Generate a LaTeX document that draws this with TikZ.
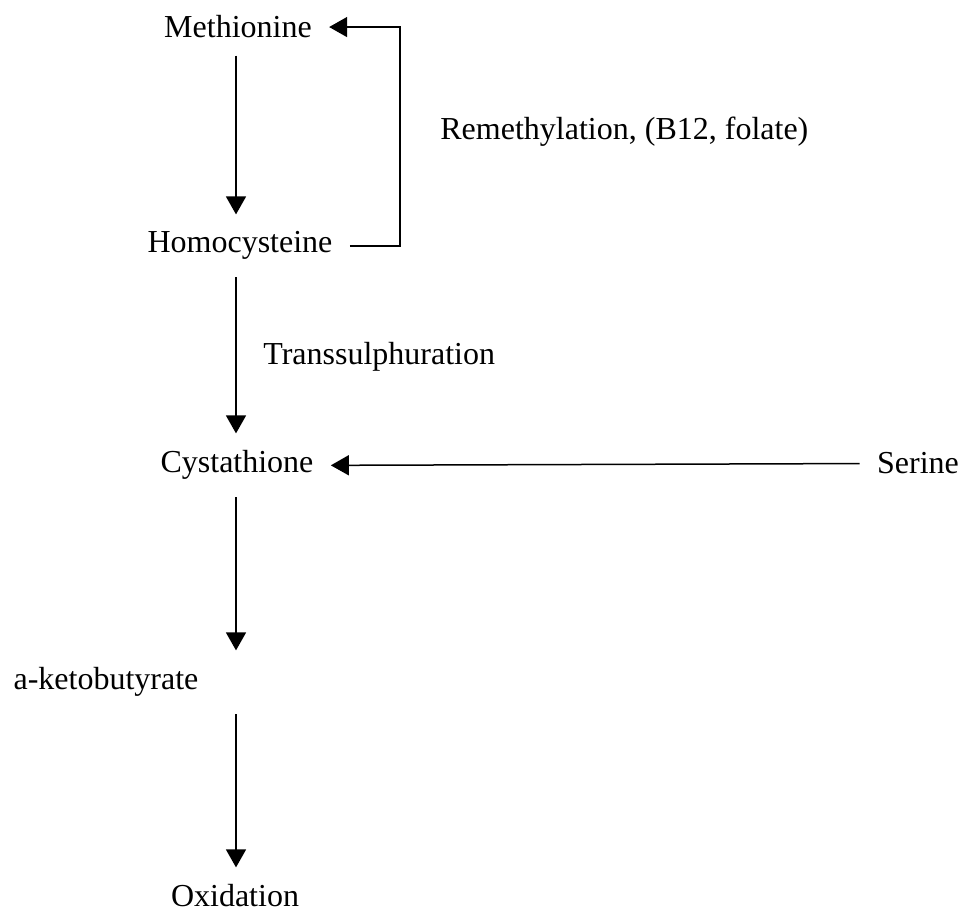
\documentclass[tikz,border=0pt]{standalone}
\usepackage{fontspec}
\setmainfont{Liberation Serif}
\usetikzlibrary{arrows.meta}

\tikzset{
	chem/.style={anchor=base, inner sep=8.5pt, font=\fontsize{16}{19}\selectfont},
	note/.style={anchor=base west, inner sep=0pt, font=\fontsize{16}{19}\selectfont},
	flow/.style={line width=0.75pt, -{Triangle[length=9pt,width=10pt]}}
}

\begin{document}
\begin{tikzpicture}[x=0.5pt,y=-0.5pt]
	\useasboundingbox (0,0) rectangle (971,914);
	\def\sx{236} % x of the main column of arrows
	\def\lx{400} % x of the remethylation loop
	\coordinate (spine) at (\sx,0);
	\coordinate (loop) at (\lx,0);
	
	% compounds
	\node[chem] (meth) at (238,38) {Methionine};
	\node[chem] (homo) at (240,253) {Homocysteine};
	\node[chem] (cyst) at (237,473) {Cystathione};
	\node[chem] (keto) at (106,690) {a-ketobutyrate};
	\node[chem] (oxid) at (235,907) {Oxidation};
	\node[chem] (ser) at (918,474) {Serine};
	
	% pathway labels
	\node[note] (remeth) at (440,140) {Remethylation, (B12, folate)};
	\node[note] (trans) at (263,365) {Transsulphuration};
	
	% main column
	\draw[flow] (meth.south -| spine) -- (homo.north -| spine);
	\draw[flow] (homo.south -| spine) -- (cyst.north -| spine);
	\draw[flow] (cyst.south -| spine) -- (keto.north -| spine);
	\draw[flow] (keto.south -| spine) -- (oxid.north -| spine);
	
	% remethylation loop
	\draw[flow] (homo.east) -- (homo.east -| loop) |- (meth.east);
	
	% serine feed
	\draw[flow] (ser.west) -- (cyst.east);
\end{tikzpicture}
\end{document}
